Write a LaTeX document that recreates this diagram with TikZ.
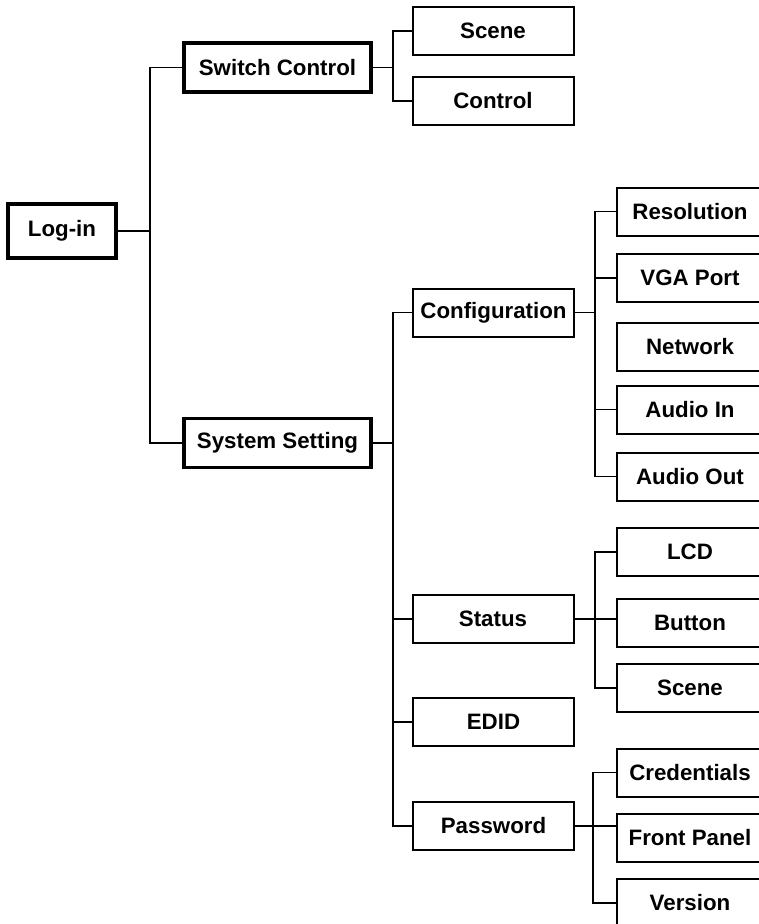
\documentclass[tikz,border=0pt]{standalone}
\usepackage{fontspec}
\setmainfont{Liberation Sans}
\usetikzlibrary{calc}

\begin{document}
\begin{tikzpicture}[x=1pt,y=-1pt,
	boxtext/.style={font=\bfseries\fontsize{22.3}{26}\selectfont,inner sep=0pt},
	rootbox/.style={boxtext,draw,line width=3.2pt,minimum width=108pt,minimum height=54pt},
	mainbox/.style={boxtext,draw,line width=3.2pt,minimum width=187pt,minimum height=49pt},
	subbox/.style={boxtext,draw,line width=2pt,minimum width=161pt,minimum height=48pt},
	leafbox/.style={boxtext,draw,line width=2pt,minimum width=146pt,minimum height=48pt},
	link/.style={line width=1.4pt}]
	\useasboundingbox (0,0) rectangle (759,924);
	\clip (0,0) rectangle (759,924);
	% first levels
	\node[rootbox] (login) at (62,231) {Log-in};
	\node[mainbox] (switch) at (277.5,67.5) {Switch Control};
	\node[mainbox] (system) at (277.5,443) {System Setting};
	% second level
	\node[subbox] (scene1) at (493,31) {Scene};
	\node[subbox] (control) at (493,101) {Control};
	\node[subbox] (config) at (493.5,312.5) {Configuration};
	\node[subbox] (status) at (493,619) {Status};
	\node[subbox] (edid) at (493.5,722) {EDID};
	\node[subbox] (password) at (493.5,826) {Password};
	% leaves
	\node[leafbox] (resolution) at (690,211.5) {Resolution};
	\node[leafbox] (vga) at (690,278) {VGA Port};
	\node[leafbox] (network) at (690,346.5) {Network};
	\node[leafbox] (audioin) at (690,409.5) {Audio In};
	\node[leafbox] (audioout) at (690,476.5) {Audio Out};
	\node[leafbox] (lcd) at (690,552) {LCD};
	\node[leafbox] (button) at (690,623) {Button};
	\node[leafbox] (scene2) at (690,688) {Scene};
	\node[leafbox] (credentials) at (690,772.5) {Credentials};
	\node[leafbox] (frontpanel) at (690,837.5) {Front Panel};
	\node[leafbox] (version) at (690,903) {Version};
	% bus lines
	\coordinate (b1) at (150,0);
	\coordinate (b2) at (393,0);
	\coordinate (b3) at (595,0);
	\coordinate (b4) at (593,0);
	\draw[link] (login.east) -- (login.east -| b1);
	\draw[link] (switch.west) -- (switch.west -| b1) -- (system.west -| b1) -- (system.west);
	\draw[link] (switch.east) -- (switch.east -| b2);
	\draw[link] (scene1.west) -- (scene1.west -| b2) -- (control.west -| b2) -- (control.west);
	\draw[link] (system.east) -- (system.east -| b2);
	\draw[link] (config.west) -- (config.west -| b2) -- (password.west -| b2) -- (password.west);
	\foreach \n in {status,edid}
		\draw[link] (\n.west) -- (\n.west -| b2);
	\draw[link] (config.east) -- (config.east -| b3);
	\draw[link] (resolution.west) -- (resolution.west -| b3) -- (audioout.west -| b3) -- (audioout.west);
	\foreach \n in {vga,audioin}
		\draw[link] (\n.west) -- (\n.west -| b3);
	\draw[link] (status.east) -- (status.east -| button.west);
	\draw[link] (lcd.west) -- (lcd.west -| b3) -- (scene2.west -| b3) -- (scene2.west);
	\draw[link] (password.east) -- (password.east -| frontpanel.west);
	\draw[link] (credentials.west) -- (credentials.west -| b4) -- (version.west -| b4) -- (version.west);
\end{tikzpicture}
\end{document}
